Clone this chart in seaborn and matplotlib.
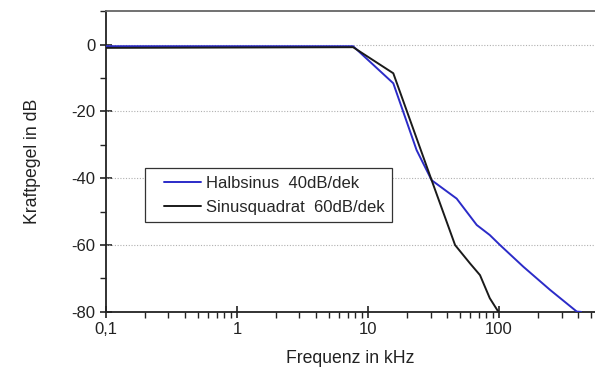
import matplotlib
matplotlib.use("Agg")
import matplotlib.pyplot as plt
import matplotlib.ticker as mticker
from matplotlib.legend_handler import HandlerLine2D
from matplotlib.lines import Line2D
import numpy as np
import pandas as pd
import seaborn as sns

# Data
freq_halb = [0.1, 7.7, 15.6, 23.5, 30.6, 47.5, 67.6, 85, 101.8, 153.5, 245, 392, 423]
db_halb = [-0.5, -0.5, -11.6, -31.6, -40.6, -46.1, -54.0, -57.0, -60.0, -66.5, -73.4, -79.9, -80.0]
freq_sq = [0.1, 7.7, 15.6, 30.6, 46.2, 60.1, 71.6, 85, 99]
db_sq = [-1.0, -0.8, -8.6, -40.6, -60.0, -65.5, -69.0, -75.9, -80.0]
series_names = ["Halbsinus  40dB/dek", "Sinusquadrat  60dB/dek"]
x_ticks = [0.1, 1, 10, 100]
x_ticklabels = ["0,1", "1", "10", "100"]
y_ticks = [0, -20, -40, -60, -80]
y_ticklabels = ["0", "-20", "-40", "-60", "-80"]

df = pd.concat([
    pd.DataFrame({"f": freq_halb, "dB": db_halb, "s": series_names[0]}),
    pd.DataFrame({"f": freq_sq, "dB": db_sq, "s": series_names[1]}),
])

sns.set_style("white")
plt.rcParams["font.family"] = ["Liberation Sans", "DejaVu Sans"]

fig = plt.figure(figsize=(5.95, 3.70), dpi=100)
ax = fig.add_axes([0.178, 0.157, 0.822, 0.813])

sns.lineplot(data=df, x="f", y="dB", hue="s", sort=False, estimator=None,
             palette={series_names[0]: "#2b2bc8", series_names[1]: "#1a1a1a"},
             linewidth=1.4, ax=ax, zorder=3)

ax.set_xscale("log")
ax.set_xlim(0.1, 540)
ax.set_ylim(-80, 10)

for yv in [0, -20, -40, -60]:
    ax.axhline(yv, color="#b0b0b0", linestyle=(0, (1, 1.5)), linewidth=0.8, zorder=1)

ax.xaxis.set_major_locator(mticker.FixedLocator(x_ticks))
ax.xaxis.set_major_formatter(mticker.FixedFormatter(x_ticklabels))
ax.xaxis.set_minor_locator(mticker.LogLocator(base=10, subs=np.arange(2, 10)))
ax.xaxis.set_minor_formatter(mticker.NullFormatter())
ax.yaxis.set_major_locator(mticker.FixedLocator(y_ticks))
ax.yaxis.set_major_formatter(mticker.FixedFormatter(y_ticklabels))
ax.yaxis.set_minor_locator(mticker.MultipleLocator(10))

ax.tick_params(which="major", direction="inout", length=9, width=1.2, labelsize=12,
               colors="#222222", pad=3)
ax.tick_params(which="minor", direction="out", length=4, width=1.0, colors="#222222")
ax.tick_params(axis="x", which="both", bottom=True)
ax.tick_params(axis="y", which="both", left=True)

for side in ["left", "bottom"]:
    ax.spines[side].set_color("#222222")
    ax.spines[side].set_linewidth(1.3)
ax.spines["top"].set_color("#666666")
ax.spines["top"].set_linewidth(1.3)
ax.spines["right"].set_visible(False)

ax.set_xlabel("Frequenz in kHz", fontsize=12.7, color="#222222", labelpad=9)
ax.set_ylabel("Kraftpegel in dB", fontsize=12.7, color="#222222", labelpad=22)

leg = ax.legend(loc="upper left", bbox_to_anchor=(0.0798, 0.478), fontsize=12,
                frameon=True, fancybox=False, framealpha=1, edgecolor="#333333",
                handlelength=2.9, handletextpad=0.3, borderpad=0.45, labelspacing=0.55,
                borderaxespad=0,
                handler_map={Line2D: HandlerLine2D(xpad=0.68)})
leg.get_frame().set_linewidth(0.9)
leg.set_title(None)

fig.savefig("out.png", dpi=100)
